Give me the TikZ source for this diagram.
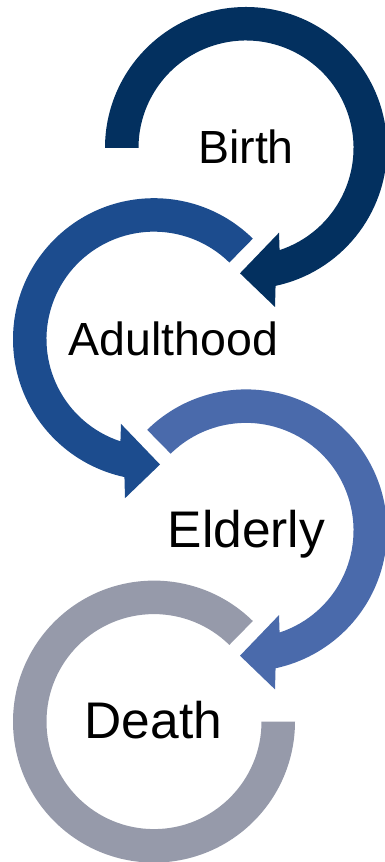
\documentclass[tikz,border=0pt]{standalone}
\usepackage{fontspec}
\setmainfont{Liberation Sans}
\definecolor{cA}{HTML}{03305F}
\definecolor{cB}{HTML}{1C4C8E}
\definecolor{cC}{HTML}{4A6AAB}
\definecolor{cD}{HTML}{969AAA}
\newcommand{\ringarrow}[1]{%
  (#1:141) arc[start angle=#1, end angle=-77.9, radius=141]
  -- (29,-159) -- (-6,-125.3) -- (33,-84.7)
  -- (-71.8:107.5) arc[start angle=-71.8, end angle=#1, radius=107.5] -- cycle}
\tikzset{
  lbl/.style={inner sep=0pt, anchor=base, text=black},
  small/.style={font=\fontsize{46.5}{50}\selectfont},
  big/.style={font=\fontsize{51.5}{55}\selectfont}
}
\begin{document}
\begin{tikzpicture}[x=1pt,y=1pt]
\useasboundingbox (0,0) rectangle (385,862);
% circle 1 (Birth)
\begin{scope}[shift={(246,714)}]
  \fill[cA] \ringarrow{180};
\end{scope}
% circle 2 (Adulthood), mirrored
\begin{scope}[shift={(154,522.8)}, xscale=-1]
  \fill[cB] \ringarrow{134.5};
\end{scope}
% circle 3 (Elderly)
\begin{scope}[shift={(246,331.6)}]
  \fill[cC] \ringarrow{134.5};
\end{scope}
% circle 4 (Death)
\begin{scope}[shift={(154,140.4)}]
  \fill[cD] (45.5:141) arc[start angle=45.5, end angle=360, radius=141]
    -- (0:107.5) arc[start angle=360, end angle=45.5, radius=107.5] -- cycle;
\end{scope}
\node[lbl, small] (birth) at (246,698) {Birth};
\node[lbl, small] (adult) at (173.5,506) {Adulthood};
\node[lbl, big] (elder) at (246.5,314) {Elderly};
\node[lbl, big] (death) at (153.5,123) {Death};
\end{tikzpicture}
\end{document}
